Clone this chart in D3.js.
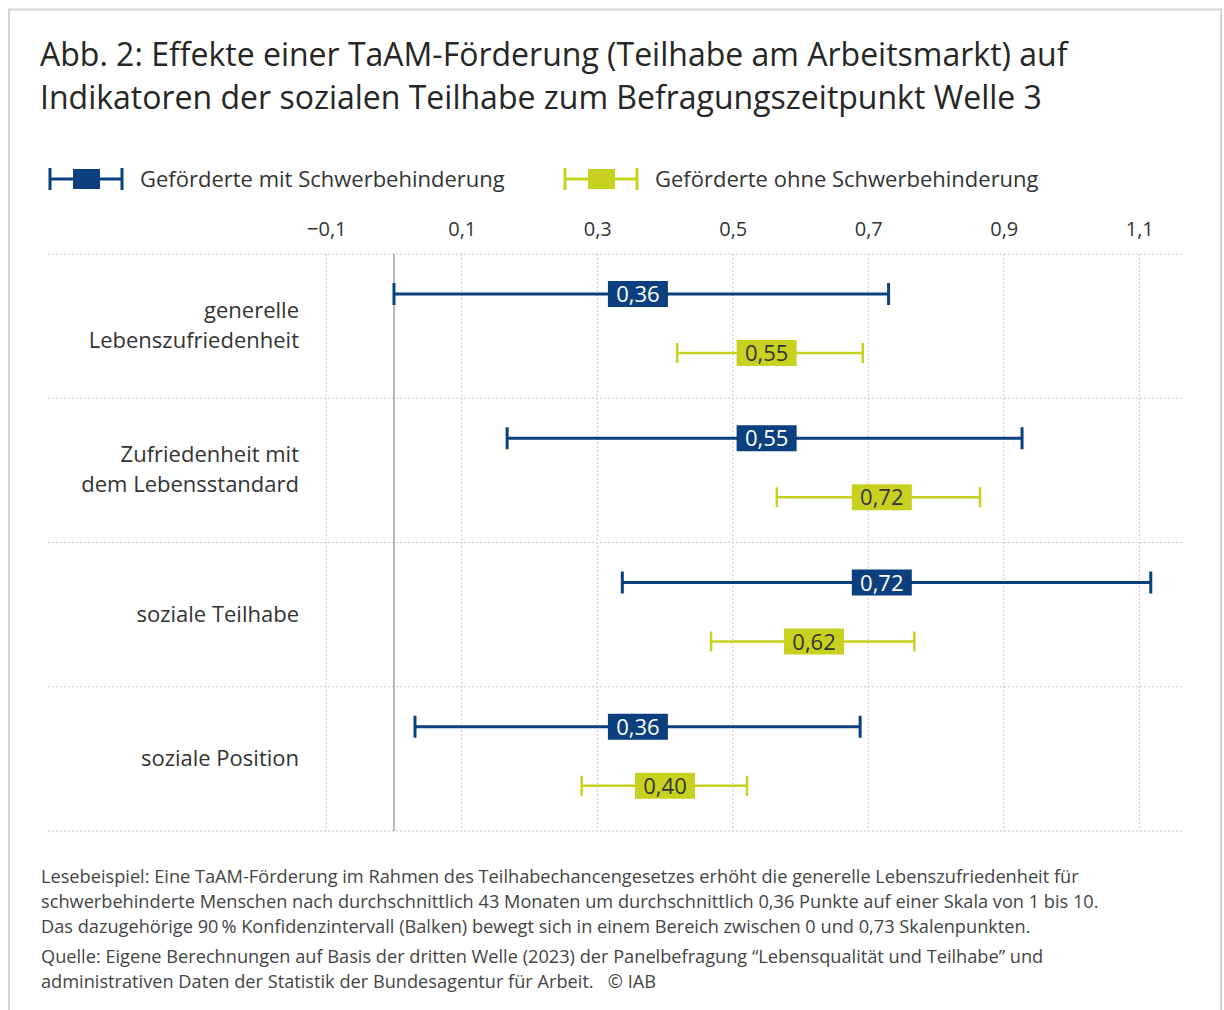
<!DOCTYPE html>
<html>
<head>
<meta charset="utf-8">
<script src="https://cdn.jsdelivr.net/npm/d3@7"></script>
<style>
  body { margin: 0; background: #fff; }
  svg { font-family: "Open Sans", "Noto Sans", sans-serif; }
</style>
</head>
<body>
<svg width="1224" height="1010"></svg>
<script>
// categories (two-line labels)
var categories = ["generelle Lebenszufriedenheit", "Zufriedenheit mit dem Lebensstandard", "soziale Teilhabe", "soziale Position"];
var categoryLines = [["generelle", "Lebenszufriedenheit"], ["Zufriedenheit mit", "dem Lebensstandard"], ["soziale Teilhabe"], ["soziale Position"]];

// series: point estimate + 90% CI
var seriesNames = ["Geförderte mit Schwerbehinderung", "Geförderte ohne Schwerbehinderung"];
var mitValue = [0.36, 0.55, 0.72, 0.36];
var mitLow   = [0.00, 0.167, 0.337, 0.031];
var mitHigh  = [0.73, 0.927, 1.117, 0.688];
var ohneValue = [0.55, 0.72, 0.62, 0.40];
var ohneLow   = [0.418, 0.565, 0.468, 0.277];
var ohneHigh  = [0.692, 0.865, 0.768, 0.521];

var tickValues = [-0.1, 0.1, 0.3, 0.5, 0.7, 0.9, 1.1];

var svg = d3.select("svg");
var colors = ["#0b3f7d", "#c6d21f"];
var textColors = ["#ffffff", "#333333"];

var de = d3.formatLocale({decimal: ",", thousands: ".", grouping: [3], currency: ["", " €"], minus: "\u2212"});
var fmt1 = de.format(".1f"), fmt2 = de.format(".2f");

// frame
svg.append("rect")
    .attr("x", 9).attr("y", 9.5)
    .attr("width", 1212).attr("height", 1020)
    .attr("fill", "none").attr("stroke", "#d4d4d4").attr("stroke-width", 2);

// title
var title = svg.append("text")
    .attr("fill", "#262626")
    .style("font-size", "32px");
title.append("tspan").attr("x", 40).attr("y", 66)
    .text("Abb. 2: Effekte einer TaAM-Förderung (Teilhabe am Arbeitsmarkt) auf");
title.append("tspan").attr("x", 40).attr("y", 109)
    .text("Indikatoren der sozialen Teilhabe zum Befragungszeitpunkt Welle 3");

// scales
var x = d3.scaleLinear().domain([-0.1, 1.1]).range([326.25, 1139.25]);
var y = d3.scaleBand().domain(categories).range([254, 831]);
var left = 48, right = 1183;

var g = svg.append("g");

// horizontal grid
g.selectAll(".hgrid")
    .data(categories.concat(["end"]))
    .enter().append("line")
    .attr("x1", left).attr("x2", right)
    .attr("y1", function(d, i) { return i < categories.length ? y(d) : y.range()[1]; })
    .attr("y2", function(d, i) { return i < categories.length ? y(d) : y.range()[1]; })
    .attr("stroke", "#c8c8c8").attr("stroke-width", 1)
    .attr("stroke-dasharray", "2,2");

// vertical grid
g.selectAll(".vgrid")
    .data(tickValues)
    .enter().append("line")
    .attr("x1", function(d) { return x(d); }).attr("x2", function(d) { return x(d); })
    .attr("y1", y.range()[0]).attr("y2", y.range()[1])
    .attr("stroke", "#c8c8c8").attr("stroke-width", 1)
    .attr("stroke-dasharray", "2,2");

// zero line
g.append("line")
    .attr("x1", x(0)).attr("x2", x(0))
    .attr("y1", y.range()[0]).attr("y2", y.range()[1])
    .attr("stroke", "#8a8a8a").attr("stroke-width", 1.2);

// axis on top
var axis = g.append("g")
    .attr("transform", "translate(0," + y.range()[0] + ")")
    .call(d3.axisTop(x).tickValues(tickValues).tickSize(0).tickPadding(18).tickFormat(fmt1));
axis.select(".domain").remove();
axis.selectAll("text")
    .attr("fill", "#333")
    .style("font-family", "'Open Sans', sans-serif")
    .style("font-size", "20px");

// category labels
var lab = g.selectAll(".cat")
    .data(categories)
    .enter().append("text")
    .attr("text-anchor", "end")
    .attr("fill", "#333")
    .style("font-size", "22px");
lab.each(function(d, i) {
    var lines = categoryLines[i];
    var cy = y(d) + y.bandwidth() / 2 + 7;
    var start = cy - (lines.length - 1) * 15;
    d3.select(this).selectAll("tspan")
        .data(lines).enter().append("tspan")
        .attr("x", 299)
        .attr("y", function(l, j) { return start + j * 30; })
        .text(function(l) { return l; });
});

// series rows
var series = [
    {name: seriesNames[0], value: mitValue, low: mitLow, high: mitHigh, offset: 40, sw: 3, cap: 22},
    {name: seriesNames[1], value: ohneValue, low: ohneLow, high: ohneHigh, offset: 99, sw: 2.5, cap: 20}
];

series.forEach(function(s, si) {
    var rows = categories.map(function(c, i) {
        return {cat: c, v: s.value[i], lo: s.low[i], hi: s.high[i]};
    });
    var grp = g.selectAll(".s" + si)
        .data(rows)
        .enter().append("g")
        .attr("transform", function(d) { return "translate(0," + (y(d.cat) + s.offset) + ")"; });
    grp.append("line")
        .attr("x1", function(d) { return x(d.lo); }).attr("x2", function(d) { return x(d.hi); })
        .attr("stroke", colors[si]).attr("stroke-width", s.sw);
    grp.append("line")
        .attr("x1", function(d) { return x(d.lo); }).attr("x2", function(d) { return x(d.lo); })
        .attr("y1", -s.cap / 2).attr("y2", s.cap / 2)
        .attr("stroke", colors[si]).attr("stroke-width", s.sw);
    grp.append("line")
        .attr("x1", function(d) { return x(d.hi); }).attr("x2", function(d) { return x(d.hi); })
        .attr("y1", -s.cap / 2).attr("y2", s.cap / 2)
        .attr("stroke", colors[si]).attr("stroke-width", s.sw);
    grp.append("rect")
        .attr("x", function(d) { return x(d.v) - 30; })
        .attr("y", -13).attr("width", 60).attr("height", 26)
        .attr("fill", colors[si]);
    grp.append("text")
        .attr("x", function(d) { return x(d.v); })
        .attr("y", 8)
        .attr("text-anchor", "middle")
        .attr("fill", textColors[si])
        .style("font-size", "22px")
        .text(function(d) { return fmt2(d.v); });
});

// legend
var legendX = [50, 565];
var legend = svg.selectAll(".legend")
    .data(seriesNames)
    .enter().append("g")
    .attr("transform", function(d, i) { return "translate(" + legendX[i] + ",179)"; });
legend.append("line")
    .attr("x1", 0).attr("x2", 72)
    .attr("stroke", function(d, i) { return colors[i]; }).attr("stroke-width", 3);
legend.append("line").attr("x1", 0).attr("x2", 0).attr("y1", -11).attr("y2", 11)
    .attr("stroke", function(d, i) { return colors[i]; }).attr("stroke-width", 3);
legend.append("line").attr("x1", 72).attr("x2", 72).attr("y1", -11).attr("y2", 11)
    .attr("stroke", function(d, i) { return colors[i]; }).attr("stroke-width", 3);
legend.append("rect")
    .attr("x", 23).attr("y", -10).attr("width", 27).attr("height", 20)
    .attr("fill", function(d, i) { return colors[i]; });
legend.append("text")
    .attr("x", 90).attr("y", 8)
    .attr("fill", "#333")
    .style("font-size", "22px")
    .text(function(d) { return d; });

// footnotes
var notes = [
    "Lesebeispiel: Eine TaAM-Förderung im Rahmen des Teilhabechancengesetzes erhöht die generelle Lebenszufriedenheit für",
    "schwerbehinderte Menschen nach durchschnittlich 43 Monaten um durchschnittlich 0,36 Punkte auf einer Skala von 1 bis 10.",
    "Das dazugehörige 90\u2009% Konfidenzintervall (Balken) bewegt sich in einem Bereich zwischen 0 und 0,73 Skalenpunkten.",
    "Quelle: Eigene Berechnungen auf Basis der dritten Welle (2023) der Panelbefragung \u201cLebensqualität und Teilhabe\u201d und",
    "administrativen Daten der Statistik der Bundesagentur für Arbeit.   \u00a9 IAB"
];
var noteY = [883, 908, 933, 963, 988];
svg.selectAll(".note")
    .data(notes)
    .enter().append("text")
    .attr("x", 41)
    .attr("y", function(d, i) { return noteY[i]; })
    .attr("fill", "#444")
    .style("font-size", "18.2px")
    .style("white-space", "pre")
    .text(function(d) { return d; });
</script>
</body>
</html>
